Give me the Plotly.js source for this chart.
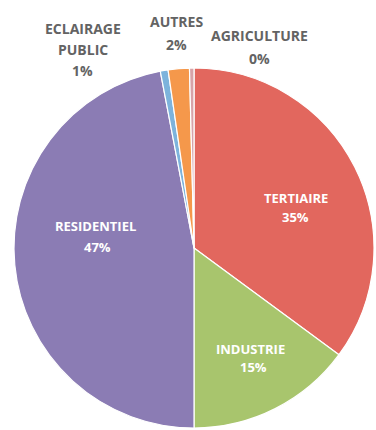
<!DOCTYPE html>
<html>
<head>
<meta charset="utf-8">
<script src="https://cdn.plot.ly/plotly-3.0.1.min.js"></script>
<style>html,body{margin:0;padding:0;background:#fff;}#chart{width:376px;height:430px;}</style>
</head>
<body>
<div id="chart"></div>
<script>
const sectors = ['TERTIAIRE', 'INDUSTRIE', 'RESIDENTIEL', 'ECLAIRAGE PUBLIC', 'AUTRES', 'AGRICULTURE'];
const shares = [35.1, 14.9, 47.0, 0.7, 1.9, 0.4];
const sliceColors = ['#E2675E', '#A8C56D', '#8B7CB4', '#7DB3DC', '#F5984B', '#D7A3A8'];

// label lines as printed on the chart
const labelLines = [['TERTIAIRE'], ['INDUSTRIE'], ['RESIDENTIEL'], ['ECLAIRAGE', 'PUBLIC'], ['AUTRES'], ['AGRICULTURE']];
const pctLabels = ['35%', '15%', '47%', '1%', '2%', '0%'];
const labelInside = [true, true, true, false, false, false];

// label placement (pixel centre of each line)
const labelX = [[296, 295], [251, 254], [95, 97], [83, 83, 82], [176, 176], [259, 259]];
const labelY = [[198, 217], [349, 367], [226, 247], [28, 50, 70], [22, 44], [36, 58]];

const W = 376, H = 430;
const annotations = [];
labelLines.forEach((lines, i) => {
  const all = lines.concat([pctLabels[i]]);
  all.forEach((t, j) => {
    annotations.push({
      text: '<b>' + t + '</b>',
      xref: 'paper', yref: 'paper',
      x: labelX[i][j] / W,
      y: 1 - labelY[i][j] / H,
      xanchor: 'center', yanchor: 'middle',
      showarrow: false,
      font: labelInside[i]
        ? {family: 'Open Sans, Liberation Sans, sans-serif', size: 13, color: '#ffffff'}
        : {family: 'Open Sans, Liberation Sans, sans-serif', size: 14, color: '#636363'}
    });
  });
});

const trace = {
  type: 'pie',
  labels: sectors,
  values: shares,
  sort: false,
  direction: 'clockwise',
  rotation: 0,
  marker: {colors: sliceColors, line: {color: '#ffffff', width: 1.2}},
  textinfo: 'none',
  hoverinfo: 'none',
  showlegend: false,
  domain: {x: [14 / W, 374 / W], y: [2 / H, 362 / H]}
};

const layout = {
  width: W,
  height: H,
  margin: {l: 0, r: 0, t: 0, b: 0},
  paper_bgcolor: '#ffffff',
  plot_bgcolor: '#ffffff',
  showlegend: false,
  annotations: annotations
};

Plotly.newPlot('chart', [trace], layout, {displayModeBar: false, staticPlot: true});
</script>
</body>
</html>
